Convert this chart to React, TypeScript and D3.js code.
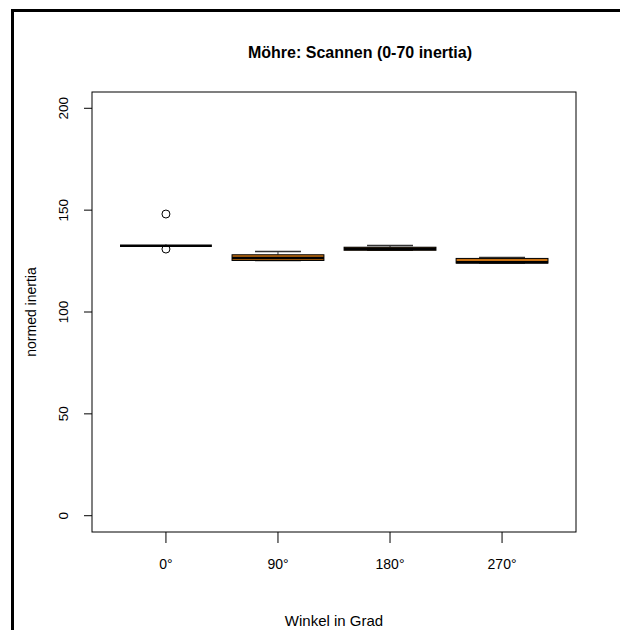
import React from "react";
import * as d3 from "d3";

const categories = ["0°", "90°", "180°", "270°"];
const lowerWhisker = [132.5, 125.3, 130.3, 124.0];
const q1 = [132.5, 125.3, 130.3, 124.0];
const median = [132.5, 126.5, 131.0, 124.4];
const q3 = [132.5, 128.1, 131.8, 126.3];
const upperWhisker = [132.5, 129.7, 132.6, 126.8];
const outliers: number[][] = [[148.1, 130.9], [], [], []];
const yTicks = [0, 50, 100, 150, 200];

const W = 620, H = 630;
const plot = { left: 92, right: 576, top: 92, bottom: 532 };

export default function App() {
  const x = d3.scaleLinear().domain([0.34, 4.66]).range([plot.left, plot.right]);
  const y = d3.scaleLinear().domain([-8, 208]).range([plot.bottom, plot.top]);
  const unit = x(2) - x(1);
  const bw = 0.82 * unit;
  const font = "'Liberation Sans', Arial, sans-serif";
  const fill = "#c87010";
  const cx = (plot.left + plot.right) / 2;
  const cy = (plot.top + plot.bottom) / 2;

  return (
    <svg width={W} height={H} style={{ position: "absolute", left: 0, top: 0, background: "#fff" }} fontFamily={font}>
      <rect x={0} y={0} width={W} height={H} fill="#fff" />
      <line x1={12.5} y1={10.5} x2={W} y2={10.5} stroke="#000" strokeWidth={3} />
      <line x1={12.5} y1={9} x2={12.5} y2={H} stroke="#000" strokeWidth={3} />

      <text x={360} y={58} textAnchor="middle" fontSize={16} fontWeight="bold">Möhre: Scannen (0-70 inertia)</text>

      <rect x={plot.left} y={plot.top} width={plot.right - plot.left} height={plot.bottom - plot.top} fill="none" stroke="#000" strokeWidth={1} />

      {yTicks.map((t) => (
        <g key={t}>
          <line x1={plot.left - 8} x2={plot.left} y1={y(t)} y2={y(t)} stroke="#000" />
          <text transform={`translate(${plot.left - 24},${y(t)}) rotate(-90)`} textAnchor="middle" fontSize={13.5}>{t}</text>
        </g>
      ))}
      {categories.map((c, i) => (
        <g key={c}>
          <line x1={x(i + 1)} x2={x(i + 1)} y1={plot.bottom} y2={plot.bottom + 11} stroke="#000" />
          <text x={x(i + 1)} y={plot.bottom + 37} textAnchor="middle" fontSize={14}>{c}</text>
        </g>
      ))}
      <text x={cx} y={626} textAnchor="middle" fontSize={15}>Winkel in Grad</text>
      <text transform={`translate(36,${cy}) rotate(-90)`} textAnchor="middle" fontSize={14}>normed inertia</text>

      {categories.map((c, i) => {
        const xc = x(i + 1);
        return (
          <g key={"b" + c}>
            <line x1={xc} x2={xc} y1={y(upperWhisker[i])} y2={y(q3[i])} stroke="#333" />
            <line x1={xc} x2={xc} y1={y(q1[i])} y2={y(lowerWhisker[i])} stroke="#333" />
            <line x1={xc - bw / 4} x2={xc + bw / 4} y1={y(upperWhisker[i])} y2={y(upperWhisker[i])} stroke="#333" strokeWidth={1.5} />
            <line x1={xc - bw / 4} x2={xc + bw / 4} y1={y(lowerWhisker[i])} y2={y(lowerWhisker[i])} stroke="#333" strokeWidth={1.5} />
            <rect x={xc - bw / 2} y={y(q3[i])} width={bw} height={Math.max(0, y(q1[i]) - y(q3[i]))} fill={fill} stroke="#000" strokeWidth={1} />
            <line x1={xc - bw / 2} x2={xc + bw / 2} y1={y(median[i])} y2={y(median[i])} stroke="#000" strokeWidth={2.5} />
            {outliers[i].map((o, j) => (
              <circle key={j} cx={xc} cy={y(o)} r={4} fill="none" stroke="#000" />
            ))}
          </g>
        );
      })}
    </svg>
  );
}
